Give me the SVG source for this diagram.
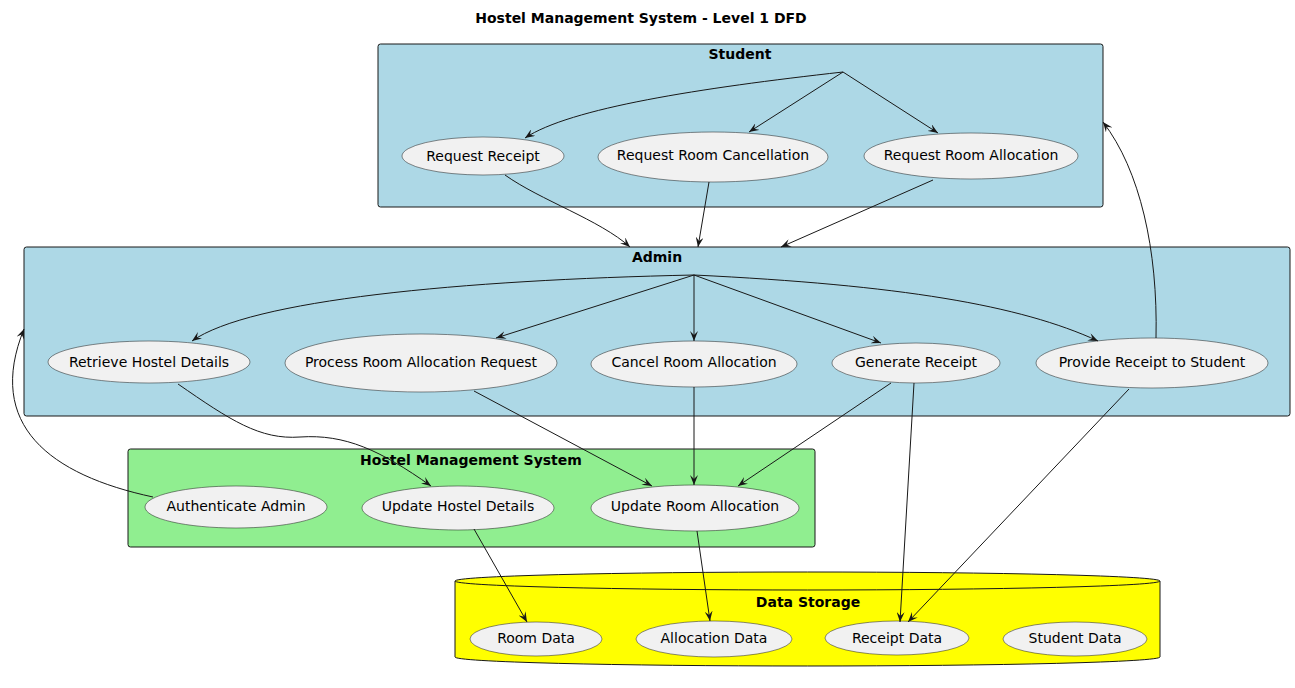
<svg xmlns="http://www.w3.org/2000/svg" width="1295" height="688" viewBox="0 0 1295 688">
<defs>
<marker id="arr" viewBox="0 0 10 8" refX="10" refY="4" markerWidth="10" markerHeight="8" markerUnits="userSpaceOnUse" orient="auto">
<path d="M0,0 L10,4 L0,8 L4,4 Z" fill="#181818"/>
</marker>
<style>
.t{font-family:"DejaVu Sans","Liberation Sans",sans-serif;font-size:14px;fill:#000;text-anchor:middle;dominant-baseline:central}
.b{font-weight:bold}
.uc{fill:#F1F1F1;stroke:#181818;stroke-width:0.5}
.box{stroke:#181818;stroke-width:1}
.c{fill:none;stroke:#181818;stroke-width:1;marker-end:url(#arr)}
</style>
</defs>
<rect width="1295" height="688" fill="#FFFFFF"/>
<text class="t b" x="641" y="18">Hostel Management System - Level 1 DFD</text>

<g id="student">
<rect class="box" x="378" y="44" width="725" height="163" rx="2.5" fill="#ADD8E6"/>
<text class="t b" x="740" y="54">Student</text>
</g>
<g id="admin">
<rect class="box" x="24" y="247" width="1266" height="169" rx="2.5" fill="#ADD8E6"/>
<text class="t b" x="657" y="257">Admin</text>
</g>
<g id="hms">
<rect class="box" x="128" y="449" width="687" height="98" rx="2.5" fill="#90EE90"/>
<text class="t b" x="471" y="460">Hostel Management System</text>
</g>
<g id="datastorage">
<path class="box" d="M455,581 A352.5,9 0 0 1 1160,581 L1160,657 A352.5,9 0 0 1 455,657 Z" fill="#FFFF00"/>
<path d="M455,581 A352.5,9 0 0 0 1160,581" fill="none" stroke="#181818" stroke-width="1"/>
<text class="t b" x="808" y="602">Data Storage</text>
</g>

<g id="request-receipt"><ellipse class="uc" cx="483" cy="156" rx="81" ry="19"/><text class="t" x="483" y="156">Request Receipt</text></g>
<g id="request-room-cancellation"><ellipse class="uc" cx="713" cy="157" rx="115" ry="25"/><text class="t" x="713" y="155">Request Room Cancellation</text></g>
<g id="request-room-allocation"><ellipse class="uc" cx="971" cy="156" rx="107" ry="23"/><text class="t" x="971" y="155">Request Room Allocation</text></g>

<g id="retrieve-hostel-details"><ellipse class="uc" cx="149" cy="362" rx="101" ry="21"/><text class="t" x="149" y="362">Retrieve Hostel Details</text></g>
<g id="process-room-allocation-request"><ellipse class="uc" cx="421" cy="363" rx="136" ry="29"/><text class="t" x="421" y="362">Process Room Allocation Request</text></g>
<g id="cancel-room-allocation"><ellipse class="uc" cx="694" cy="364" rx="103" ry="23"/><text class="t" x="694" y="362">Cancel Room Allocation</text></g>
<g id="generate-receipt"><ellipse class="uc" cx="916" cy="363" rx="84" ry="20"/><text class="t" x="916" y="362">Generate Receipt</text></g>
<g id="provide-receipt-to-student"><ellipse class="uc" cx="1152" cy="363" rx="116" ry="25"/><text class="t" x="1152" y="362">Provide Receipt to Student</text></g>

<g id="authenticate-admin"><ellipse class="uc" cx="236" cy="507" rx="91" ry="21"/><text class="t" x="236" y="506">Authenticate Admin</text></g>
<g id="update-hostel-details"><ellipse class="uc" cx="458" cy="508" rx="96" ry="22"/><text class="t" x="458" y="506">Update Hostel Details</text></g>
<g id="update-room-allocation"><ellipse class="uc" cx="695" cy="508" rx="104" ry="23"/><text class="t" x="695" y="506">Update Room Allocation</text></g>

<g id="room-data"><ellipse class="uc" cx="536" cy="639" rx="66" ry="17"/><text class="t" x="536" y="638">Room Data</text></g>
<g id="allocation-data"><ellipse class="uc" cx="714" cy="639" rx="78" ry="18"/><text class="t" x="714" y="638">Allocation Data</text></g>
<g id="receipt-data"><ellipse class="uc" cx="897" cy="638" rx="72" ry="17"/><text class="t" x="897" y="638">Receipt Data</text></g>
<g id="student-data"><ellipse class="uc" cx="1075" cy="639" rx="72" ry="17"/><text class="t" x="1075" y="638">Student Data</text></g>

<g id="connectors">
<path class="c" d="M843,72 C700,88 570,108 525,138"/>
<path class="c" d="M843,72 L749,132"/>
<path class="c" d="M843,72 L938,133"/>
<path class="c" d="M505,175 C540,200 600,220 630,247"/>
<path class="c" d="M709,182 L698,247"/>
<path class="c" d="M933,180 L781,247"/>
<path class="c" d="M694,275 C460,280 250,300 192,341"/>
<path class="c" d="M694,275 L496,338"/>
<path class="c" d="M694,275 L694,341"/>
<path class="c" d="M694,275 L881,343"/>
<path class="c" d="M694,275 C900,285 1020,305 1098,341"/>
<path class="c" d="M1156,338 C1158,250 1140,170 1103,122"/>
<path class="c" d="M178,384 C230,420 260,440 300,437 C345,434 380,450 431,486"/>
<path class="c" d="M153,497 C50,475 -15,425 24,329"/>
<path class="c" d="M474,391 L652,486"/>
<path class="c" d="M694,387 L694,485"/>
<path class="c" d="M891,383 L738,486"/>
<path class="c" d="M914,383 L900,622"/>
<path class="c" d="M1129,389 L908,622"/>
<path class="c" d="M474,529 L527,622"/>
<path class="c" d="M697,531 L710,621"/>
</g>
</svg>
